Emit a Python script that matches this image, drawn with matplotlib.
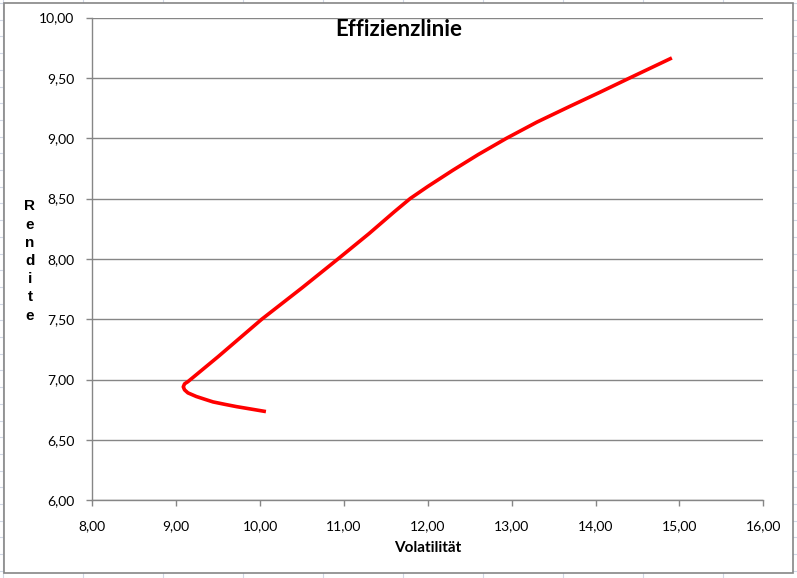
import matplotlib
matplotlib.use("Agg")
import matplotlib.pyplot as plt
from matplotlib.lines import Line2D
from matplotlib.patches import Rectangle
from matplotlib.ticker import FuncFormatter, MultipleLocator

# Effizienzlinie
volatility = [10.07, 9.90, 9.72, 9.58, 9.44, 9.35, 9.24, 9.14, 9.10, 9.085, 9.10, 9.14,
              9.50, 10.02, 10.50, 10.93, 11.30, 11.60, 11.79, 12.00, 12.30, 12.60,
              12.94, 13.30, 13.70, 14.05, 14.41, 14.91]
returns = [6.735, 6.755, 6.776, 6.795, 6.815, 6.835, 6.86, 6.89, 6.915, 6.94, 6.965, 6.983,
           7.19, 7.50, 7.76, 8.00, 8.21, 8.39, 8.50, 8.60, 8.735, 8.864,
           9.00, 9.133, 9.266, 9.38, 9.50, 9.665]

W, H = 797, 578
fig = plt.figure(figsize=(W / 100, H / 100), dpi=100)
fig.patch.set_facecolor("white")

# excel sheet grid behind the chart object
sheet = "#d0d7e5"
for x in range(3, W, 80):
    fig.add_artist(Line2D([x / W, x / W], [0, 1], color=sheet, lw=0.8, zorder=0))
for k in range(0, 40):
    y = 3 + k * 16.7
    fig.add_artist(Line2D([0, 1], [1 - y / H, 1 - y / H], color=sheet, lw=0.8, zorder=0))

# chart area
fig.add_artist(Rectangle((4 / W, 1 - 573 / H), 789 / W, 570 / H, transform=fig.transFigure,
                         facecolor="white", edgecolor="#868686", lw=1.2, zorder=1))

left, right, top, bottom = 92.3, 763.3, 17.5, 500.3
ax = fig.add_axes([left / W, 1 - bottom / H, (right - left) / W, (bottom - top) / H], zorder=2)
ax.set_facecolor("none")

ax.plot(volatility, returns, color="#ff0000", lw=2.6, solid_joinstyle="round",
        solid_capstyle="butt", zorder=3)

ax.set_xlim(8, 16)
ax.set_ylim(6, 10)
ax.xaxis.set_major_locator(MultipleLocator(1))
ax.yaxis.set_major_locator(MultipleLocator(0.5))
fmt = FuncFormatter(lambda v, p: f"{v:.2f}".replace(".", ","))
ax.xaxis.set_major_formatter(fmt)
ax.yaxis.set_major_formatter(fmt)

ax.grid(axis="y", color="#868686", lw=1.0)
ax.set_axisbelow(True)
for s in ["top", "right"]:
    ax.spines[s].set_visible(False)
for s in ["left", "bottom"]:
    ax.spines[s].set_color("#868686")
    ax.spines[s].set_linewidth(1.0)
ax.tick_params(axis="both", direction="out", length=4, width=1.0, color="#868686",
               labelsize=10, labelcolor="black")
ax.tick_params(axis="x", pad=10)
ax.tick_params(axis="y", pad=9)
for lab in ax.get_xticklabels() + ax.get_yticklabels():
    lab.set_fontfamily("Lato")

fig.text(398.5 / W, 1 - 29 / H, "Effizienzlinie", ha="center", va="center",
         fontsize=16, fontweight="bold", family="Lato")
fig.text(428 / W, 1 - 548 / H, "Volatilität", ha="center", va="center",
         fontsize=11, fontweight="bold", family="Lato")
fig.text(30 / W, 1 - 261 / H, "R\ne\nn\nd\ni\nt\ne", ha="center", va="center",
         fontsize=11, fontweight="bold", family="Liberation Sans", linespacing=1.38)

fig.savefig("out.png", dpi=100)
